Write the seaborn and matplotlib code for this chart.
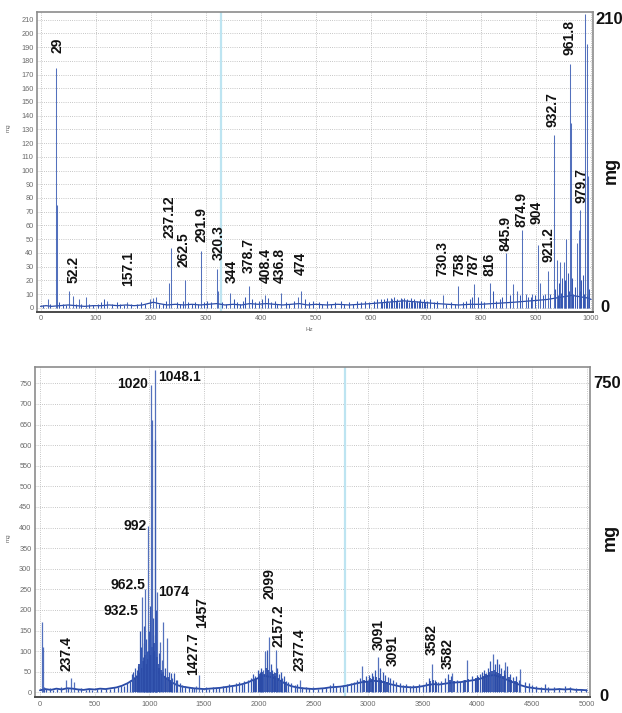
import matplotlib
matplotlib.use("Agg")
import matplotlib.pyplot as plt
import matplotlib.transforms as mtransforms
import pandas as pd
import seaborn as sns

# ---------------- upper spectrum (0-1000 Hz) ----------------
top_peak_pos = [29, 52.2, 157.1, 237.12, 262.5, 291.9, 320.3, 344, 378.7, 408.4, 436.8, 474,
                730.3, 758, 787, 816, 845.9, 874.9, 904, 921.2, 932.7, 961.8, 979.7]
top_peak_mg = [175, 12.5, 4, 43.5, 20.5, 41, 28, 11, 15.5, 9.5, 11, 12,
               9, 16, 17, 18, 40, 57, 46, 26.5, 126, 178, 71.5]
# label placement: text start height (mg) and horizontal nudge (Hz)
top_label_y = [186, 18, 15.5, 51, 30, 48, 35, 18, 25, 18, 18, 24,
               23, 23, 23, 23, 41, 59, 61, 33, 132, 184.5, 76]
top_label_dx = [1, 8, 2, -2, -3, 1, 3, 4, -1, 0, -2, -1,
                -1, 3, 0, -1, -1, -1, -3, 1, -3, -1, 2]

# unlabelled lines (Hz, mg)
top_other = [(29.8, 75), (234, 18), (321.5, 12), (963, 135), (974, 47), (978, 57),
             (988.5, 214), (991.8, 192), (995, 96), (955, 50), (950.5, 33), (944, 33),
             (938, 35), (859, 17), (866, 12), (881, 10), (893, 10), (907, 18), (916, 10),
             (14, 6), (58.5, 8.5), (70, 6), (82, 7.5), (120, 5), (199, 6), (205, 7),
             (210, 8), (468, 8)]

# low-level noise lines (Hz, mg)
top_noise = [(5, 2), (18, 3), (33, 4), (40, 3), (47, 2), (64, 3), (74, 3), (88, 3), (95, 2),
             (104, 3), (110, 4), (116, 6), (130, 3), (138, 4), (145, 3), (152, 2), (165, 3),
             (175, 3), (183, 4), (190, 3), (215, 3), (222, 3), (228, 5), (247, 4), (253, 3),
             (258, 5), (268, 4), (275, 3), (280, 4), (286, 3), (297, 4), (303, 5), (310, 4),
             (330, 4), (337, 3), (351, 6), (356, 4), (363, 3), (368, 5), (372, 8), (384, 6),
             (390, 4), (397, 5), (402, 6), (413, 7), (418, 4), (425, 5), (430, 3), (445, 4),
             (452, 3), (460, 5), (480, 6), (488, 4), (495, 5), (505, 4), (512, 3), (520, 5),
             (528, 3), (535, 4), (545, 5), (552, 3), (560, 4), (568, 3), (575, 5), (582, 4),
             (590, 5), (597, 4), (605, 5), (612, 6), (618, 6), (624, 6), (630, 7), (636, 7),
             (642, 8), (648, 6), (654, 7), (660, 7), (666, 6), (672, 7), (678, 6), (684, 5),
             (690, 6), (696, 6), (702, 5), (708, 6), (714, 4), (720, 5), (737, 3), (745, 4),
             (752, 3), (767, 4), (772, 5), (780, 6), (784, 8), (795, 8), (800, 5), (806, 4),
             (822, 12), (828, 5), (834, 6), (838, 8), (852, 9), (870, 9), (885, 8), (890, 8),
             (898, 9), (912, 9), (926, 10), (934, 14), (941, 18), (947, 22), (952, 20),
             (958, 25), (966, 22), (970, 15), (982, 20), (985, 24), (997, 14),
             (621, 4), (627, 5), (633, 4), (639, 6), (645, 5), (651, 4), (657, 6), (663, 5),
             (669, 4), (675, 5), (681, 4), (687, 5), (693, 4), (699, 4), (940, 9), (946, 11),
             (953, 8), (960, 12), (968, 10), (975, 9), (980, 12), (987, 10), (993, 9)]

# continuous baseline (Hz, mg)
top_base = [(0, 1), (10, 1.5), (20, 1), (35, 1.5), (50, 2), (65, 1.5), (80, 1), (95, 1.5),
            (110, 1.5), (125, 2), (140, 1.5), (155, 2), (170, 1.5), (185, 2), (195, 3),
            (205, 4), (215, 3), (230, 2), (245, 2.5), (260, 2), (275, 2.5), (290, 2),
            (305, 2.5), (320, 3), (335, 2), (350, 2.5), (365, 2), (380, 3), (395, 2.5),
            (410, 3), (425, 2.5), (440, 2), (455, 2.5), (470, 3), (485, 2), (500, 2.5),
            (520, 2), (540, 2.5), (560, 2), (580, 2.5), (600, 3), (615, 3.5), (630, 4),
            (645, 4.5), (660, 5), (675, 4.5), (690, 4), (705, 3.5), (720, 3), (740, 2.5),
            (760, 2), (780, 2.5), (800, 2.5), (820, 3), (840, 3.5), (860, 4), (875, 4.5),
            (890, 5), (905, 5.5), (920, 6), (935, 7), (950, 8), (965, 9), (980, 8),
            (995, 7), (1000, 6)]

# ---------------- lower spectrum (0-5000) ----------------
bot_peak_pos = [237.4, 932.5, 962.5, 992, 1020, 1048.1, 1074, 1427.7, 1457,
                2099, 2157.2, 2377.4, 3091, 3582]
bot_peak_mg = [29, 231, 252, 405, 745, 782, 243, 15, 41,
               135, 102, 29, 86, 68]

# horizontal labels near the main cluster: (anchor Hz, anchor mg, alignment)
bot_hlabels = ["932.5", "962.5", "992", "1020", "1048.1", "1074"]
bot_hlabel_x = [900, 967, 977, 991, 1083, 1077]
bot_hlabel_y = [197, 260, 405, 749, 765, 243]
bot_hlabel_ha = ["right", "right", "right", "right", "left", "left"]

# vertical labels: text, centre (Hz), text start (mg)
bot_vlabels = ["237.4", "1427.7", "1457", "2099", "2157.2", "2377.4",
               "3091", "3091", "3582", "3582"]
bot_vlabel_x = [239, 1397, 1480, 2098, 2180, 2378, 3094, 3226, 3583, 3729]
bot_vlabel_y = [53, 41, 155, 227, 110, 53, 102, 65, 90, 57]

bot_other = [(22, 171), (27, 110), (283, 34), (316, 25), (1022, 660), (1052, 612),
             (1128, 171), (1159, 131), (1097, 122), (1118, 78), (2060, 100), (2040, 55),
             (2943, 63), (3766, 46), (3903, 78), (4140, 94), (4253, 74), (4390, 57)]

bot_noise = [(40, 12), (60, 8), (90, 10), (120, 6), (160, 8), (190, 12), (260, 10), (350, 8),
             (380, 10), (420, 6), (450, 8), (480, 6), (520, 9), (560, 7), (600, 10), (640, 8),
             (680, 12), (710, 14), (740, 18), (770, 16), (800, 22), (820, 30), (840, 45),
             (855, 50), (870, 60), (885, 55), (895, 65), (905, 48), (918, 150), (925, 110),
             (940, 85), (948, 120), (955, 160), (968, 130), (975, 100), (982, 90), (1000, 150),
             (1005, 120), (1010, 210), (1030, 180), (1038, 140), (1060, 130), (1066, 200),
             (1085, 95), (1145, 60), (1180, 50), (1195, 46), (1210, 35), (1225, 46), (1240, 30),
             (1256, 29), (1280, 22), (1300, 18), (1330, 15), (1360, 12), (1390, 14), (1410, 10),
             (1480, 10), (1520, 12), (1550, 9), (1580, 14), (1610, 11), (1640, 13), (1670, 16),
             (1700, 15), (1730, 20), (1760, 18), (1790, 22), (1820, 25), (1850, 20), (1870, 28),
             (1900, 30), (1930, 35), (1950, 45), (1970, 40), (1990, 55), (2010, 50), (2020, 60),
             (2035, 45), (2078, 104), (2110, 70), (2125, 55), (2140, 50), (2170, 60), (2185, 45),
             (2200, 50), (2215, 35), (2230, 40), (2250, 28), (2270, 25), (2300, 22), (2330, 18),
             (2350, 20), (2400, 14), (2430, 12), (2460, 10), (2500, 12), (2540, 9), (2580, 11),
             (2620, 14), (2650, 18), (2680, 22), (2710, 16), (2740, 14), (2770, 18), (2810, 20),
             (2840, 22), (2870, 26), (2900, 30), (2930, 35), (2980, 40), (3000, 30), (3010, 42),
             (3033, 46), (3050, 40), (3065, 55), (3110, 60), (3141, 49), (3160, 42), (3180, 38),
             (3200, 35), (3230, 30), (3260, 25), (3290, 22), (3320, 18), (3350, 20), (3380, 15),
             (3410, 18), (3440, 14), (3470, 20), (3500, 18), (3530, 25), (3555, 35), (3610, 30),
             (3640, 25), (3670, 28), (3700, 35), (3730, 45), (3760, 40), (3810, 30), (3840, 25),
             (3870, 30), (3950, 40), (3980, 35), (4000, 42), (4020, 45), (4040, 50), (4060, 55),
             (4080, 48), (4100, 60), (4120, 75), (4160, 70), (4180, 80), (4200, 70), (4220, 60),
             (4240, 55), (4270, 65), (4300, 45), (4330, 38), (4350, 40), (4380, 30), (4440, 25),
             (4470, 22), (4500, 18), (4540, 15), (4580, 14), (4620, 20), (4650, 12), (4700, 14),
             (4750, 10), (4800, 15), (4850, 12), (4900, 10), (4950, 8), (4990, 7)]

# dense low clutter inside the humps (Hz, mg)
bot_clutter = [(870, 35), (890, 40), (910, 70), (930, 60), (945, 75), (960, 90), (970, 70),
               (990, 80), (995, 100), (1015, 90), (1025, 110), (1035, 95), (1045, 120),
               (1055, 100), (1070, 85), (1080, 70), (1090, 60), (1105, 55), (1115, 45),
               (1125, 50), (1140, 40), (1155, 35), (1170, 38), (1190, 30), (1200, 25),
               (1960, 30), (1980, 35), (2000, 40), (2015, 45), (2030, 50), (2045, 45),
               (2070, 60), (2090, 55), (2105, 50), (2130, 45), (2150, 40), (2160, 48),
               (2180, 35), (2205, 30), (2240, 25), (2960, 30), (2990, 28), (3020, 35),
               (3040, 32), (3075, 38), (3100, 34), (3120, 30), (3150, 28), (3170, 26),
               (3570, 28), (3590, 30), (3620, 25), (3750, 30), (3790, 28), (3890, 30),
               (3910, 33), (3990, 36), (4010, 38), (4050, 40), (4070, 45), (4090, 42),
               (4110, 50), (4130, 52), (4150, 55), (4170, 50), (4190, 48), (4210, 45),
               (4230, 40), (4250, 42), (4285, 38), (4310, 30), (4340, 28), (4365, 25)]

bot_base = [(0, 5), (50, 8), (100, 6), (150, 9), (200, 7), (250, 10), (300, 9), (350, 7),
            (400, 6), (450, 8), (500, 7), (550, 9), (600, 8), (650, 10), (700, 12), (750, 16),
            (800, 22), (850, 30), (900, 42), (950, 55), (1000, 60), (1050, 55), (1100, 45),
            (1150, 35), (1200, 25), (1250, 18), (1300, 14), (1350, 12), (1400, 10), (1450, 9),
            (1500, 8), (1550, 9), (1600, 10), (1650, 11), (1700, 13), (1750, 15), (1800, 17),
            (1850, 20), (1900, 24), (1950, 30), (2000, 35), (2050, 40), (2100, 38), (2150, 34),
            (2200, 28), (2250, 20), (2300, 15), (2350, 12), (2400, 10), (2450, 9), (2500, 8),
            (2550, 9), (2600, 10), (2650, 12), (2700, 13), (2750, 14), (2800, 16), (2850, 19),
            (2900, 22), (2950, 25), (3000, 26), (3050, 28), (3100, 27), (3150, 24), (3200, 20),
            (3250, 17), (3300, 14), (3350, 13), (3400, 12), (3450, 13), (3500, 15), (3550, 18),
            (3600, 20), (3650, 19), (3700, 21), (3750, 23), (3800, 24), (3850, 25), (3900, 27),
            (3950, 29), (4000, 31), (4050, 35), (4100, 40), (4150, 42), (4200, 38), (4250, 33),
            (4300, 27), (4350, 22), (4400, 17), (4450, 13), (4500, 11), (4550, 9), (4600, 8),
            (4650, 7), (4700, 7), (4750, 8), (4800, 7), (4850, 8), (4900, 6), (4950, 6), (5000, 5)]

# ---------------- style ----------------
sns.set_theme(style="white")
plt.rcParams["font.family"] = ["Liberation Sans", "DejaVu Sans"]

LINE = "#3658b2"
DARK = "#2a4aa6"
GRID = "#b4b4b4"
TICK = "#6a6a6a"
CURSOR = "#bde4f1"

fig = plt.figure(figsize=(6.22, 7.13), dpi=100)
ax_top = fig.add_axes([37 / 622, 1 - 311.7 / 713, 556.3 / 622, 300 / 713])
ax_bot = fig.add_axes([35 / 622, 1 - 697.3 / 713, 555 / 622, 330 / 713])


def frame(ax, xlim, ylim, xstep, ystep, xmax, ymax):
    ax.set_xlim(*xlim)
    ax.set_ylim(*ylim)
    ax.set_xticks(range(0, xmax + 1, xstep))
    ax.set_yticks(range(0, ymax + 1, ystep))
    ax.set_axisbelow(True)
    ax.grid(True, color=GRID, lw=0.6, ls=(0, (1.0, 1.6)))
    ax.tick_params(length=0, pad=2.5, labelsize=5.3, labelcolor=TICK)
    for side in ("top", "right", "left"):
        ax.spines[side].set_color("#8c8c8c")
        ax.spines[side].set_linewidth(1.2)
    ax.spines["bottom"].set_color("#4a4a4a")
    ax.spines["bottom"].set_linewidth(1.4)
    ax.set_facecolor("white")


def spectrum(ax, base, noise, other, pos, mg, lw, base_lw, clutter=None):
    b = pd.DataFrame(base, columns=["hz", "mg"])
    sns.lineplot(data=b, x="hz", y="mg", ax=ax, color=DARK, lw=base_lw,
                 estimator=None, legend=False, zorder=3)
    n = pd.DataFrame(noise, columns=["hz", "mg"])
    ax.vlines(n["hz"], 0, n["mg"], color=LINE, lw=lw, zorder=3)
    if clutter is not None:
        c = pd.DataFrame(clutter, columns=["hz", "mg"])
        ax.vlines(c["hz"], 0, c["mg"], color=DARK, lw=lw * 1.4, zorder=3)
    o = pd.DataFrame(other, columns=["hz", "mg"])
    ax.vlines(o["hz"], 0, o["mg"], color=LINE, lw=lw, alpha=0.85, zorder=3)
    ax.vlines(pos, 0, mg, color=LINE, lw=lw, alpha=0.85, zorder=3)


label_font = dict(fontsize=10, fontweight="bold", color="#111111")

# upper panel
frame(ax_top, (-6.4, 1004), (-2.9, 215.8), 100, 10, 1000, 210)
ax_top.axvline(328, color=CURSOR, lw=1.6, zorder=2)
spectrum(ax_top, top_base, top_noise, top_other, top_peak_pos, top_peak_mg, 0.75, 0.9)
for v, y, dx in zip(top_peak_pos, top_label_y, top_label_dx):
    ax_top.text(v + dx, y, f"{v:g}", rotation=90, ha="center", va="bottom", **label_font)
ax_top.set_xlabel("Hz", fontsize=4.5, color=TICK)
ax_top.xaxis.set_label_coords(0.49, -0.052)
ax_top.set_ylabel("mg", fontsize=4.5, color=TICK)
ax_top.yaxis.set_label_coords(-0.047, 0.613)

# lower panel
frame(ax_bot, (-45, 5030), (-12, 789), 500, 50, 5000, 750)
ax_bot.axvline(2790, color=CURSOR, lw=1.6, zorder=2)
spectrum(ax_bot, bot_base, bot_noise, bot_other, bot_peak_pos, bot_peak_mg, 0.9, 1.3,
         clutter=bot_clutter)
for t, x, y, ha in zip(bot_hlabels, bot_hlabel_x, bot_hlabel_y, bot_hlabel_ha):
    ax_bot.text(x, y, t, ha=ha, va="center", **label_font)
for t, x, y in zip(bot_vlabels, bot_vlabel_x, bot_vlabel_y):
    ax_bot.text(x, y, t, rotation=90, ha="center", va="bottom", **label_font)
ax_bot.set_xlabel("")
ax_bot.set_ylabel("mg", fontsize=4.5, color=TICK)
ax_bot.yaxis.set_label_coords(-0.043, 0.485)

# scale annotations on the right-hand side
side_font = dict(fontsize=12, fontweight="bold", color="#111111")
tr = mtransforms.blended_transform_factory(ax_top.transAxes, ax_top.transData)
ax_top.text(1.004, 210, "210", transform=tr, ha="left", va="center", **side_font)
ax_top.text(1.012, 0, "0", transform=tr, ha="left", va="center", **side_font)
ax_top.text(1.033, 0.472, "mg", transform=ax_top.transAxes, rotation=90,
            ha="center", va="center", fontsize=13, fontweight="bold", color="#111111")

tr = mtransforms.blended_transform_factory(ax_bot.transAxes, ax_bot.transData)
ax_bot.text(1.005, 750, "750", transform=tr, ha="left", va="center", **side_font)
ax_bot.text(1.017, -9, "0", transform=tr, ha="left", va="center", **side_font)
ax_bot.text(1.037, 0.485, "mg", transform=ax_bot.transAxes, rotation=90,
            ha="center", va="center", fontsize=13, fontweight="bold", color="#111111")

fig.savefig("out.png", dpi=100, facecolor="white")
